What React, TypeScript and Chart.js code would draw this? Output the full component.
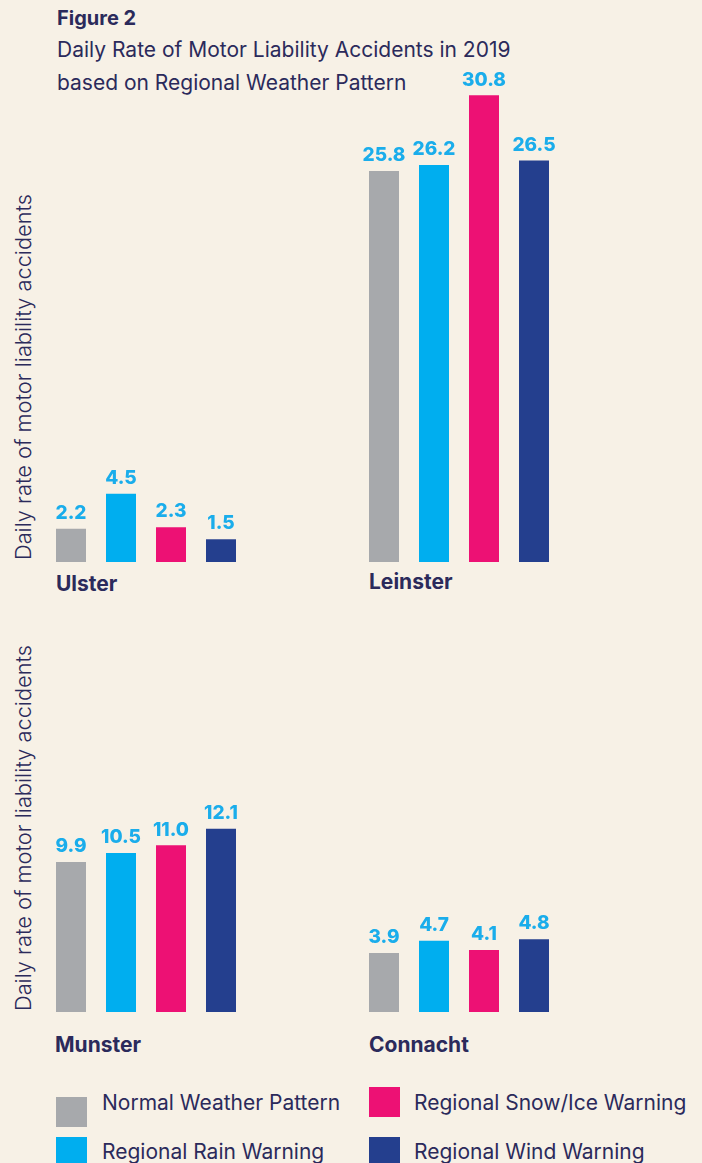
import React, { useEffect, useRef } from "react";
import { Chart, registerables } from "chart.js";

Chart.register(...registerables);

const regions = ["Ulster", "Leinster", "Munster", "Connacht"];
const seriesNames = [
  "Normal Weather Pattern",
  "Regional Rain Warning",
  "Regional Snow/Ice Warning",
  "Regional Wind Warning",
];
const normalValues = [2.2, 25.8, 9.9, 3.9];
const rainValues = [4.5, 26.2, 10.5, 4.7];
const snowValues = [2.3, 30.8, 11.0, 4.1];
const windValues = [1.5, 26.5, 12.1, 4.8];
const seriesColors = ["#A7A9AC", "#00AEEF", "#ED1174", "#243F8E"];

const TEXT = "#2B2A5B";
const LABEL = "#1AADEB";
const BG = "#F7F1E6";
const FONT = "Inter, 'Open Sans', sans-serif";

// panel layout (canvas positions)
const panels = [
  { left: 46, top: 62, width: 200, height: 500, max: 33 },
  { left: 359, top: 62, width: 200, height: 500, max: 33 },
  { left: 46, top: 709, width: 200, height: 303, max: 20 },
  { left: 359, top: 709, width: 200, height: 303, max: 20 },
];

const valueLabelPlugin = {
  id: "valueLabels",
  afterDatasetsDraw(chart: any) {
    const ctx = chart.ctx;
    ctx.save();
    ctx.fillStyle = LABEL;
    ctx.font = `800 19px ${FONT}`;
    ctx.textAlign = "center";
    ctx.textBaseline = "bottom";
    chart.data.datasets.forEach((ds: any, di: number) => {
      const meta = chart.getDatasetMeta(di);
      meta.data.forEach((bar: any, i: number) => {
        ctx.fillText(Number(ds.data[i]).toFixed(1), bar.x, bar.y - 6);
      });
    });
    ctx.restore();
  },
};

function Panel({ index }: { index: number }) {
  const ref = useRef<HTMLCanvasElement>(null);
  const p = panels[index];
  useEffect(() => {
    const values = [
      normalValues[index],
      rainValues[index],
      snowValues[index],
      windValues[index],
    ];
    const chart = new Chart(ref.current as HTMLCanvasElement, {
      type: "bar",
      data: {
        labels: seriesNames,
        datasets: [
          {
            label: regions[index],
            data: values,
            backgroundColor: seriesColors,
            borderWidth: 0,
            categoryPercentage: 1,
            barPercentage: 0.6,
          },
        ],
      },
      options: {
        animation: false,
        responsive: false,
        maintainAspectRatio: false,
        layout: { padding: 0 },
        plugins: { legend: { display: false }, tooltip: { enabled: false } },
        scales: {
          x: { display: false },
          y: { display: false, min: 0, max: p.max },
        },
      },
      plugins: [valueLabelPlugin],
    });
    return () => chart.destroy();
  }, [index]);
  return (
    <canvas
      ref={ref}
      width={p.width}
      height={p.height}
      style={{ position: "absolute", left: p.left, top: p.top, width: p.width, height: p.height }}
    />
  );
}

const regionLabelPos = [
  { left: 56, top: 571 },
  { left: 369, top: 569 },
  { left: 55, top: 1032 },
  { left: 369, top: 1032 },
];

const legendPos = [
  { sq: { left: 56, top: 1097 }, text: { left: 102, top: 1091 } },
  { sq: { left: 56, top: 1137 }, text: { left: 102, top: 1140 } },
  { sq: { left: 369, top: 1087 }, text: { left: 414, top: 1091 } },
  { sq: { left: 369, top: 1137 }, text: { left: 414, top: 1140 } },
];

export default function App() {
  const yTitle = "Daily rate of motor liability accidents";
  return (
    <div
      style={{
        position: "absolute",
        left: 0,
        top: 0,
        width: 702,
        height: 1163,
        background: BG,
        overflow: "hidden",
        fontFamily: FONT,
        color: TEXT,
      }}
    >
      <div style={{ position: "absolute", left: 57, top: 6, fontSize: 20, fontWeight: 700, lineHeight: "24px" }}>
        Figure 2
      </div>
      <div style={{ position: "absolute", left: 57, top: 33, fontSize: 21, lineHeight: "33px", whiteSpace: "nowrap" }}>
        Daily Rate of Motor Liability Accidents in 2019
        <br />
        based on Regional Weather Pattern
      </div>
      {[377, 828].map((cy, i) => (
        <div
          key={i}
          style={{
            position: "absolute",
            left: 23 - 250,
            top: cy - 12,
            width: 500,
            height: 24,
            lineHeight: "24px",
            textAlign: "center",
            fontSize: 21.8,
            fontWeight: 300,
            transform: "rotate(-90deg)",
            whiteSpace: "nowrap",
          }}
        >
          {yTitle}
        </div>
      ))}
      {regions.map((r, i) => (
        <Panel key={r} index={i} />
      ))}
      {regions.map((r, i) => (
        <div
          key={"l" + r}
          style={{
            position: "absolute",
            left: regionLabelPos[i].left,
            top: regionLabelPos[i].top,
            fontSize: 21,
            fontWeight: 700,
            lineHeight: "26px",
          }}
        >
          {r}
        </div>
      ))}
      {seriesNames.map((s, i) => (
        <React.Fragment key={s}>
          <div
            style={{
              position: "absolute",
              left: legendPos[i].sq.left,
              top: legendPos[i].sq.top,
              width: 31,
              height: 30,
              background: seriesColors[i],
            }}
          />
          <div
            style={{
              position: "absolute",
              left: legendPos[i].text.left,
              top: legendPos[i].text.top,
              fontSize: 21,
              lineHeight: "24px",
              whiteSpace: "nowrap",
            }}
          >
            {s}
          </div>
        </React.Fragment>
      ))}
    </div>
  );
}
